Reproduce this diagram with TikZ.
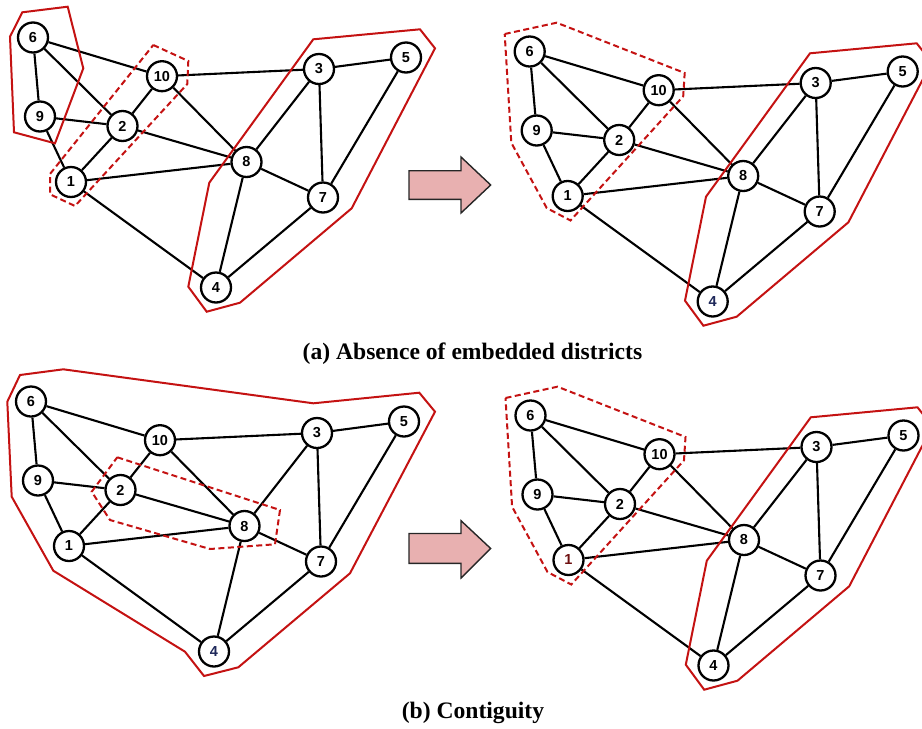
\documentclass[tikz,border=0pt]{standalone}
\usepackage{fontspec}
\setmainfont{Liberation Serif}
\newfontfamily\nodefont{Liberation Sans}
\definecolor{distred}{RGB}{196,18,18}
\definecolor{arrowpink}{RGB}{232,176,176}
\definecolor{navylbl}{RGB}{30,40,90}
\definecolor{redlbl}{RGB}{110,16,16}
\tikzset{
  vtx/.style={circle, draw=black, line width=2.3pt, fill=white, minimum size=30pt, inner sep=0pt, font=\nodefont\bfseries\fontsize{14.5}{16}\selectfont},
  edge/.style={draw=black, line width=2.1pt},
  district/.style={draw=distred, line width=2pt, line join=miter},
  districtdash/.style={district, dash pattern=on 6pt off 3.5pt},
  bigarrow/.style={draw=black!85, line width=1.4pt, fill=arrowpink, line join=miter},
  caption/.style={font=\bfseries\fontsize{23.6}{28}\selectfont, anchor=base},
  v1/.style={}, v2/.style={}, v3/.style={}, v4/.style={}, v5/.style={},
  v6/.style={}, v7/.style={}, v8/.style={}, v9/.style={}, v10/.style={}
}
\newcommand{\graphpanel}[4]{%
  \begin{scope}[shift={(#2,#3)},#4]
    \foreach \n/\px/\py in {1/71/182, 2/122.5/126, 3/319/69, 4/216/287.5, 5/406/57.5,
                            6/33/37.5, 7/323/197.5, 8/246.5/162, 9/40/116.5, 10/162/76.2}
      \node[vtx, v\n] (#1\n) at (\px,\py) {\n};
    \foreach \a/\b in {6/10, 6/9, 6/2, 9/2, 9/1, 10/2, 10/3, 10/8, 2/1, 2/8, 1/8, 1/4,
                       3/5, 3/8, 3/7, 5/7, 8/7, 8/4, 7/4}
      \draw[edge] (#1\a) -- (#1\b);
  \end{scope}}
\begin{document}
\begin{tikzpicture}[x=1pt, y=-1pt]
\useasboundingbox (0,0) rectangle (922,729);

% ---------- (a) left ----------
\graphpanel{a}{0}{0}{}
\draw[district] (22.3,12.3) -- (67.7,6.7) -- (83.3,68.3) -- (55,143.3) -- (14,132.3) -- (10,36.7) -- cycle;
\draw[districtdash] (153.3,45) -- (188.3,61) -- (187.3,84) -- (75,206) -- (50,194.3) -- (50,174) -- cycle;
\draw[district] (313.3,39.3) -- (420,29.3) -- (435,48.3) -- (351.7,208.3) -- (240,302.7) -- (206.7,311.7) -- (188.3,286.7) -- (209.3,182.7) -- cycle;

% ---------- (a) right ----------
\graphpanel{b}{496.7}{14}{v4/.style={text=navylbl}}
\begin{scope}[shift={(496.7,14)}]
\draw[districtdash] (8,20) -- (60,8.7) -- (188,59) -- (186.5,82.3) -- (73.8,206.5) -- (50,194) -- (14.6,128.7) -- cycle;
\draw[district] (313.3,39.3) -- (420,29.3) -- (435,48.3) -- (351.7,208.3) -- (240,302.7) -- (206.7,311.7) -- (188.3,286.7) -- (209.3,182.7) -- cycle;
\end{scope}

% ---------- (b) left ----------
\graphpanel{c}{-2}{364}{v4/.style={text=navylbl}}
\begin{scope}[shift={(-2,364)}]
\draw[district] (22,11) -- (65.3,5.3) -- (315.3,39.3) -- (421.3,28.7) -- (437,47.7) -- (352,209.3) -- (240.3,303.3) -- (206,312) -- (187,287.7) -- (55.3,206.7) -- (13.7,132.7) -- (9.3,37.7) -- cycle;
\draw[districtdash] (119.3,93.3) -- (282,146) -- (277,180.3) -- (212,185) -- (112,156) -- (93.7,127.7) -- cycle;
\end{scope}

% ---------- (b) right ----------
\graphpanel{d}{497.5}{378}{v1/.style={text=redlbl}}
\begin{scope}[shift={(497.5,378)}]
\draw[districtdash] (8,20) -- (60,8.7) -- (188,59) -- (186.5,82.3) -- (73.8,206.5) -- (50,194) -- (14.6,128.7) -- cycle;
\draw[district] (313.3,39.3) -- (420,29.3) -- (435,48.3) -- (351.7,208.3) -- (240,302.7) -- (206.7,311.7) -- (188.3,286.7) -- (209.3,182.7) -- cycle;
\end{scope}

% ---------- arrows ----------
\draw[bigarrow] (409,170.7) -- (461,170.7) -- (461,157) -- (490.7,185) -- (461,213) -- (461,199.3) -- (409,199.3) -- cycle;
\draw[bigarrow] (409,533.5) -- (461,533.5) -- (461,520.7) -- (490.7,548.5) -- (461,578) -- (461,563.3) -- (409,563.3) -- cycle;

% ---------- captions ----------
\node[caption] (capa) at (472.5,359) {(a) Absence of embedded districts};
\node[caption] (capb) at (473,718) {(b) Contiguity};
\end{tikzpicture}
\end{document}
